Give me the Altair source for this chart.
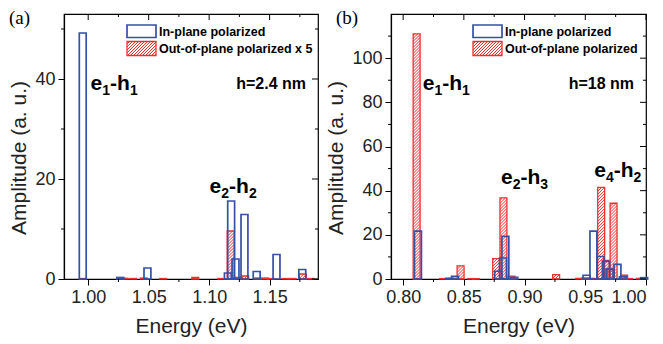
import altair as alt
import numpy as np
import pandas as pd

# ---------------- data ----------------
# Panel (a): h = 2.4 nm
a_in_E = [0.9955, 1.0265, 1.0490, 1.1155, 1.1182, 1.1218, 1.1292, 1.1393, 1.1557, 1.1770]
a_in_amp = [49.2, 0.3, 2.2, 1.2, 15.6, 4.0, 12.9, 1.5, 4.9, 1.9]
a_out_E = [0.9955, 1.0300, 1.0370, 1.0460, 1.0620, 1.0885, 1.1100, 1.1178, 1.1230,
           1.1298, 1.1400, 1.1460, 1.1510, 1.1630, 1.1690, 1.1775, 1.1840]
a_out_amp = [0.1, 0.15, 0.1, 0.2, 0.1, 0.3, 0.1, 9.6, 0.3,
             0.6, 0.2, 0.2, 0.1, 0.1, 0.1, 1.0, 0.1]

# Panel (b): h = 18 nm
b_in_E = [0.8122, 0.8380, 0.8427, 0.8783, 0.8822, 0.8842, 0.8915, 0.9510, 0.9567,
          0.9625, 0.9672, 0.9700, 0.9765, 0.9810, 0.9985]
b_in_amp = [21.7, 0.3, 1.2, 3.5, 9.5, 19.3, 0.8, 1.7, 21.7,
            10.2, 8.0, 4.5, 6.6, 1.0, 0.6]
b_out_E = [0.8111, 0.8330, 0.8400, 0.8473, 0.8560, 0.8600, 0.8766, 0.8826, 0.8892,
           0.9260, 0.9450, 0.9500, 0.9550, 0.9631, 0.9668, 0.9710, 0.9733, 0.9820,
           0.9860, 0.9950]
b_out_amp = [111.0, 0.2, 0.3, 5.9, 0.2, 0.2, 9.2, 36.7, 1.3,
             2.0, 0.3, 0.5, 0.3, 41.5, 8.4, 4.7, 34.3, 1.7,
             0.2, 0.3]

BIN = 0.0057  # bar (bin) width in eV

a_x_major = [1.00, 1.05, 1.10, 1.15]
a_x_minor = [1.025, 1.075, 1.125, 1.175]
a_y_major = [0, 20, 40]
a_y_minor = [10, 30, 50]
b_x_major = [0.80, 0.85, 0.90, 0.95, 1.00]
b_x_minor = [0.825, 0.875, 0.925, 0.975]
b_y_major = [0, 20, 40, 60, 80, 100]
b_y_minor = [10, 30, 50, 70, 90, 110]

a_xdom = [0.98, 1.19]
a_ydom = [0, 53]
b_xdom = [0.79, 1.00]
b_ydom = [0, 120]

W_A, W_B, H = 254, 255, 265

BLUE = "#3550a6"
RED = "#f03030"
FONT = "Liberation Sans"

# approximate advance widths (em) of Liberation Sans Bold
ADV = {"e": 0.556, "h": 0.611, "-": 0.333, "1": 0.556, "2": 0.556, "3": 0.556, "4": 0.556}


def hatch(px0, pyb, w, h, s=3.0):
    """diagonal '/' hatch lines inside a pixel rectangle (bottom-left px0,pyb; v upwards)."""
    segs = []
    if h < 2.0:
        return segs
    c = -w + s * 0.5
    while c < h:
        u0 = max(0.0, -c)
        u1 = min(w, h - c)
        if u1 > u0:
            segs.append((px0 + u0, pyb + u0 + c, px0 + u1, pyb + u1 + c))
        c += s
    return segs


def panel(in_E, in_amp, out_E, out_amp, xdom, ydom, xmaj, xmin, ymaj, ymin, W,
          letter, out_label, hlabel, leg_x, labels, xfmt):
    kx = W / (xdom[1] - xdom[0])
    ky = H / (ydom[1] - ydom[0])

    def to_data(px, pv):  # px from left, pv upwards from bottom
        return xdom[0] + px / kx, ydom[0] + pv / ky

    blue = pd.DataFrame({"E0": [e - BIN / 2 for e in in_E], "E1": [e + BIN / 2 for e in in_E],
                         "amp": in_amp, "base": 0.0})
    red = pd.DataFrame({"E0": [e - BIN / 2 for e in out_E], "E1": [e + BIN / 2 for e in out_E],
                        "amp": out_amp, "base": 0.0})

    segs = []
    for e0, e1, a in zip(red.E0, red.E1, red.amp):
        segs += hatch((e0 - xdom[0]) * kx, 0.0, (e1 - e0) * kx, a * ky)
    lb_x0, lb_x1 = leg_x, leg_x + 29
    blue_box = (11, 23.5)
    red_box = (27.5, 41.5)
    segs += hatch(lb_x0, H - red_box[1], 29, red_box[1] - red_box[0])
    hdf = pd.DataFrame([(*to_data(a, b), *to_data(c, d)) for a, b, c, d in segs],
                       columns=["E0", "amp", "E1", "base"])

    def box_df(y0, y1):
        ea, va = to_data(lb_x0, H - y1)
        eb, vb = to_data(lb_x1, H - y0)
        return pd.DataFrame({"E0": [ea], "E1": [eb], "amp": [vb], "base": [va]})

    xs = alt.Scale(domain=xdom, nice=False, zero=False)
    ys = alt.Scale(domain=ydom, nice=False, zero=False)

    xaxis = alt.Axis(values=xmaj, title="Energy (eV)", tickSize=6, format=xfmt, grid=False)
    yaxis = alt.Axis(values=ymaj, title="Amplitude (a. u.)", tickSize=6, format="d", grid=False,
                     titlePadding=5, titleY=H / 2 + 11)

    def X(f="E0"):
        return alt.X(f"{f}:Q", scale=xs, axis=xaxis)

    def Y(f="amp"):
        return alt.Y(f"{f}:Q", scale=ys, axis=yaxis)

    red_layer = alt.Chart(red).mark_rect(fill=None, stroke=RED, strokeWidth=1.3).encode(
        x=X(), x2="E1", y=Y(), y2="base")
    hatch_layer = alt.Chart(hdf).mark_rule(color=RED, strokeWidth=1.0).encode(
        x=X(), x2="E1", y=Y(), y2="base")
    blue_layer = alt.Chart(blue).mark_rect(fill=None, stroke=BLUE, strokeWidth=1.7).encode(
        x=X(), x2="E1", y=Y(), y2="base")
    leg_blue = alt.Chart(box_df(*blue_box)).mark_rect(fill=None, stroke=BLUE, strokeWidth=1.7).encode(
        x=X(), x2="E1", y=Y(), y2="base")
    leg_red = alt.Chart(box_df(*red_box)).mark_rect(fill=None, stroke=RED, strokeWidth=1.3).encode(
        x=X(), x2="E1", y=Y(), y2="base")

    one = pd.DataFrame({"k": [0]})

    def txt(x, y, t, size, weight="bold", align="left", baseline="alphabetic", font=FONT):
        return alt.Chart(one).mark_text(text=t, font=font, fontSize=size, fontWeight=weight,
                                        align=align, baseline=baseline, color="black").encode(
            x=alt.value(x), y=alt.value(y))

    layers = [red_layer, hatch_layer, blue_layer, leg_blue, leg_red]

    # mirror ticks (top / right) pointing inward, minor ticks bottom / left pointing outward
    for vals, ln in ((xmaj, 6), (xmin, 3)):
        layers.append(alt.Chart(pd.DataFrame({"E0": vals})).mark_rule(color="black", strokeWidth=1).encode(
            x=X(), y=alt.value(0), y2=alt.value(ln)))
    layers.append(alt.Chart(pd.DataFrame({"E0": xmin})).mark_rule(color="black", strokeWidth=1).encode(
        x=X(), y=alt.value(H), y2=alt.value(H + 3)))
    for vals, ln in ((ymaj, 6), (ymin, 3)):
        layers.append(alt.Chart(pd.DataFrame({"amp": vals})).mark_rule(color="black", strokeWidth=1).encode(
            y=Y(), x=alt.value(W), x2=alt.value(W - ln)))
    layers.append(alt.Chart(pd.DataFrame({"amp": ymin})).mark_rule(color="black", strokeWidth=1).encode(
        y=Y(), x=alt.value(0), x2=alt.value(-3)))

    # legend text
    layers.append(txt(leg_x + 32, 17.5, "In-plane polarized", 12.5, baseline="middle"))
    layers.append(txt(leg_x + 32, 35, out_label, 12.5, baseline="middle"))
    # thickness label
    layers.append(txt(W - 12, 75, hlabel, 16, align="right"))
    # panel letter
    layers.append(txt(-55, 4, letter, 19, weight="normal", baseline="middle", font="Liberation Serif"))

    # transition labels with subscripts
    big, small = 21, 14
    for x0, y0, parts in labels:
        x = x0
        for t, sub in parts:
            if sub:
                layers.append(txt(x, y0 + 5, t, small))
                x += sum(ADV[c] for c in t) * small
            else:
                layers.append(txt(x, y0, t, big))
                x += sum(ADV[c] for c in t) * big

    return alt.layer(*layers).properties(width=W, height=H)


def lab(x, y, e, h):
    return (x, y, [("e", False), (e, True), ("-h", False), (h, True)])


pa = panel(a_in_E, a_in_amp, a_out_E, a_out_amp, a_xdom, a_ydom, a_x_major, a_x_minor,
           a_y_major, a_y_minor, W_A, "(a)", "Out-of-plane polarized x 5", "h=2.4 nm", 63,
           [lab(26.6, 76, "1", "1"), lab(145.6, 178.7, "2", "2")], ".2f")
pb = panel(b_in_E, b_in_amp, b_out_E, b_out_amp, b_xdom, b_ydom, b_x_major, b_x_minor,
           b_y_major, b_y_minor, W_B, "(b)", "Out-of-plane polarized", "h=18 nm", 82,
           [lab(31.7, 76, "1", "1"), lab(110, 169.7, "2", "3"), lab(203.3, 163.3, "4", "2")], ".2f")

chart = alt.hconcat(pa, pb, spacing=5).properties(padding=0).configure(
    font=FONT
).configure_view(stroke="black", strokeWidth=1.2).configure_axis(
    labelFont=FONT, labelFontSize=18, labelColor="#222", labelPadding=3,
    titleFont=FONT, titleFontSize=21, titleFontWeight="normal", titleColor="#222", titlePadding=9,
    tickColor="black", domainColor="black", tickWidth=1, domainWidth=1.2
)

chart.save("out.html", embed_options={"renderer": "svg", "actions": False})
